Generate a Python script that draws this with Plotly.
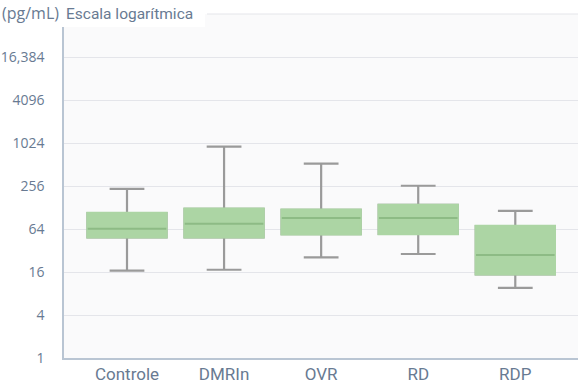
import plotly.graph_objects as go

categories = ["Controle", "DMRIn", "OVR", "RD", "RDP"]
lower_whisker = [16.7, 17.2, 25.7, 28.6, 9.6]
q1_values = [49, 49, 54, 54.5, 14.8]
median_values = [64.5, 76, 91, 91, 27.7]
q3_values = [107, 123, 119, 139, 70.5]
upper_whisker = [234, 910, 525, 258, 115]

tick_values = [1, 4, 16, 64, 256, 1024, 4096, 16384]
tick_labels = ["1", "4", "16", "64", "256", "1024", "4096", "16,384"]

GREEN = "#acd5a4"
GREEN_DARK = "#8dbb85"
GRAY = "#9a9a9a"
TEXT = "#687a92"

fig = go.Figure()
BW = 0.814
# whiskers
fig.add_trace(go.Box(
    x=categories, q1=q1_values, median=median_values, q3=q3_values,
    lowerfence=lower_whisker, upperfence=upper_whisker,
    width=BW, whiskerwidth=0.44, fillcolor=GREEN,
    line=dict(color=GRAY, width=2.2), showlegend=False, hoverinfo="skip"))
# box body
fig.add_trace(go.Box(
    x=categories, q1=q1_values, median=median_values, q3=q3_values,
    lowerfence=q1_values, upperfence=q3_values,
    width=BW, whiskerwidth=0, fillcolor=GREEN,
    line=dict(color=GREEN, width=2.4), showlegend=False, hoverinfo="skip"))
# median lines
fig.add_trace(go.Box(
    x=categories, q1=median_values, median=median_values, q3=median_values,
    lowerfence=median_values, upperfence=median_values,
    width=BW - 0.004, whiskerwidth=0, fillcolor="rgba(0,0,0,0)",
    line=dict(color=GREEN_DARK, width=2), showlegend=False, hoverinfo="skip"))

L, R, T, B = 64, 0, 14, 32
W, H = 578, 390
pw = W - L - R
ph = H - T - B

fig.update_layout(
    width=W, height=H,
    margin=dict(l=L, r=R, t=T, b=B, pad=0, autoexpand=False),
    paper_bgcolor="white", plot_bgcolor="#fafafb",
    boxmode="overlay",
    font=dict(family="Roboto", color=TEXT),
    xaxis=dict(
        type="category", range=[-0.649, 4.646],
        showgrid=False, zeroline=False,
        showline=True, linecolor="#b9c5d3", linewidth=1.5,
        ticks="", tickfont=dict(family="Roboto", size=17, color=TEXT),
        fixedrange=True, automargin=False,
    ),
    yaxis=dict(
        type="log", range=[0, 4.81648],
        tickvals=tick_values, ticktext=tick_labels,
        showgrid=True, gridcolor="#e4e5ea", gridwidth=1,
        zeroline=False,
        showline=True, linecolor="#b9c5d3", linewidth=1.5,
        ticks="outside", ticklen=15, tickcolor="rgba(0,0,0,0)",
        tickfont=dict(family="Open Sans", size=14, color=TEXT),
        fixedrange=True, automargin=False,
    ),
    shapes=[
        dict(type="line", xref="paper", yref="paper",
             x0=(207 - L) / pw, x1=1, y0=1, y1=1,
             line=dict(color="#e4e5ea", width=1), layer="below"),
        dict(type="rect", xref="paper", yref="paper",
             x0=-L / pw, x1=(205 - L) / pw,
             y0=(H - B - 27) / ph, y1=(H - B) / ph + 0.1,
             fillcolor="white", line=dict(width=0), layer="above"),
    ],
    annotations=[
        dict(xref="paper", yref="paper", x=-L / pw, y=(H - B - 13) / ph,
             xanchor="left", yanchor="middle", showarrow=False,
             text="<span style='font-family:Open Sans;font-size:16px'>(pg/mL)</span>\u2009 Escala logarítmica",
             font=dict(family="Roboto", size=15.5, color=TEXT)),
    ],
)

fig.write_html("out.html", config={"displayModeBar": False},
               post_script="document.body.style.margin='0';document.body.style.padding='0';")
